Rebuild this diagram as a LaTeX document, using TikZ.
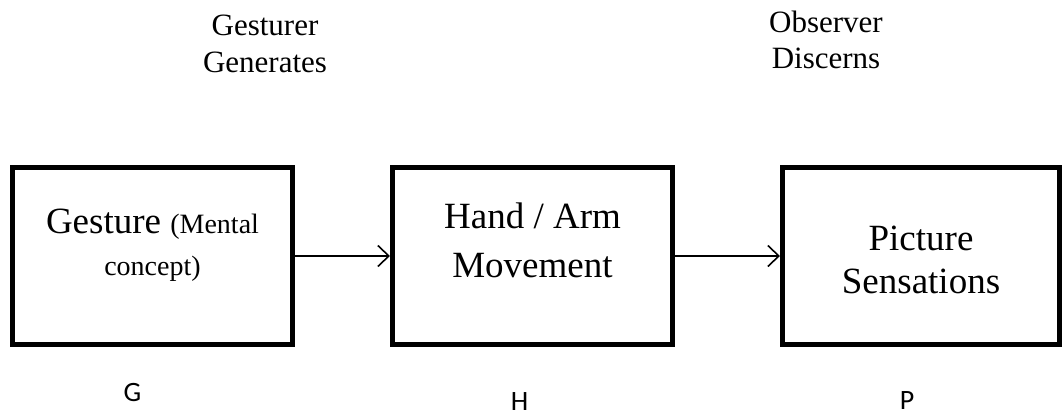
\documentclass[tikz,border=0pt]{standalone}
\usepackage{fontspec}
\setmainfont{Liberation Serif}
\newfontfamily\labelfont{Carlito}
\usetikzlibrary{arrows.meta}
\tikzset{
  stage/.style={draw, line width=5pt, minimum width=280pt, minimum height=177pt, inner sep=0pt},
  big/.style={anchor=base, inner sep=0pt, font=\fontsize{37}{44}\selectfont},
  head/.style={anchor=base, inner sep=0pt, font=\fontsize{31}{37}\selectfont},
  letter/.style={anchor=base, inner sep=0pt, font=\labelfont\fontsize{28}{33}\selectfont},
  flow/.style={line width=1.6pt, -{Straight Barb[length=11pt,width=21pt,line width=1.6pt]}}
}
\begin{document}
\begin{tikzpicture}[x=1pt, y=-1pt]
\useasboundingbox (0,0) rectangle (1064,415);
% three stages
\node[stage] (g) at (152.5,256) {};
\node[stage] (h) at (532.5,256) {};
\node[stage, minimum width=277pt] (p) at (921,256) {};
% stage texts
\node[big] (g1) at (152.5,233) {Gesture {\fontsize{28}{34}\selectfont(Mental}};
\node[big, font=\fontsize{28}{34}\selectfont] (g2) at (152.5,275) {concept)};
\node[big] (h1) at (532.5,228) {Hand / Arm};
\node[big] (h2) at (532.5,277) {Movement};
\node[big] (p1) at (921,250) {Picture};
\node[big] (p2) at (921,293) {Sensations};
% headings
\node[head] (t1) at (265,35) {Gesturer};
\node[head] (t2) at (265,72) {Generates};
\node[head] (t3) at (826,32) {Observer};
\node[head] (t4) at (826,68) {Discerns};
% symbols
\node[letter] (lg) at (132.5,401) {G};
\node[letter] (lh) at (519.5,410) {H};
\node[letter] (lp) at (907,409) {P};
% connectors
\draw[flow] (g.east) -- (h.west);
\draw[flow] (h.east) -- (p.west);
\end{tikzpicture}
\end{document}
